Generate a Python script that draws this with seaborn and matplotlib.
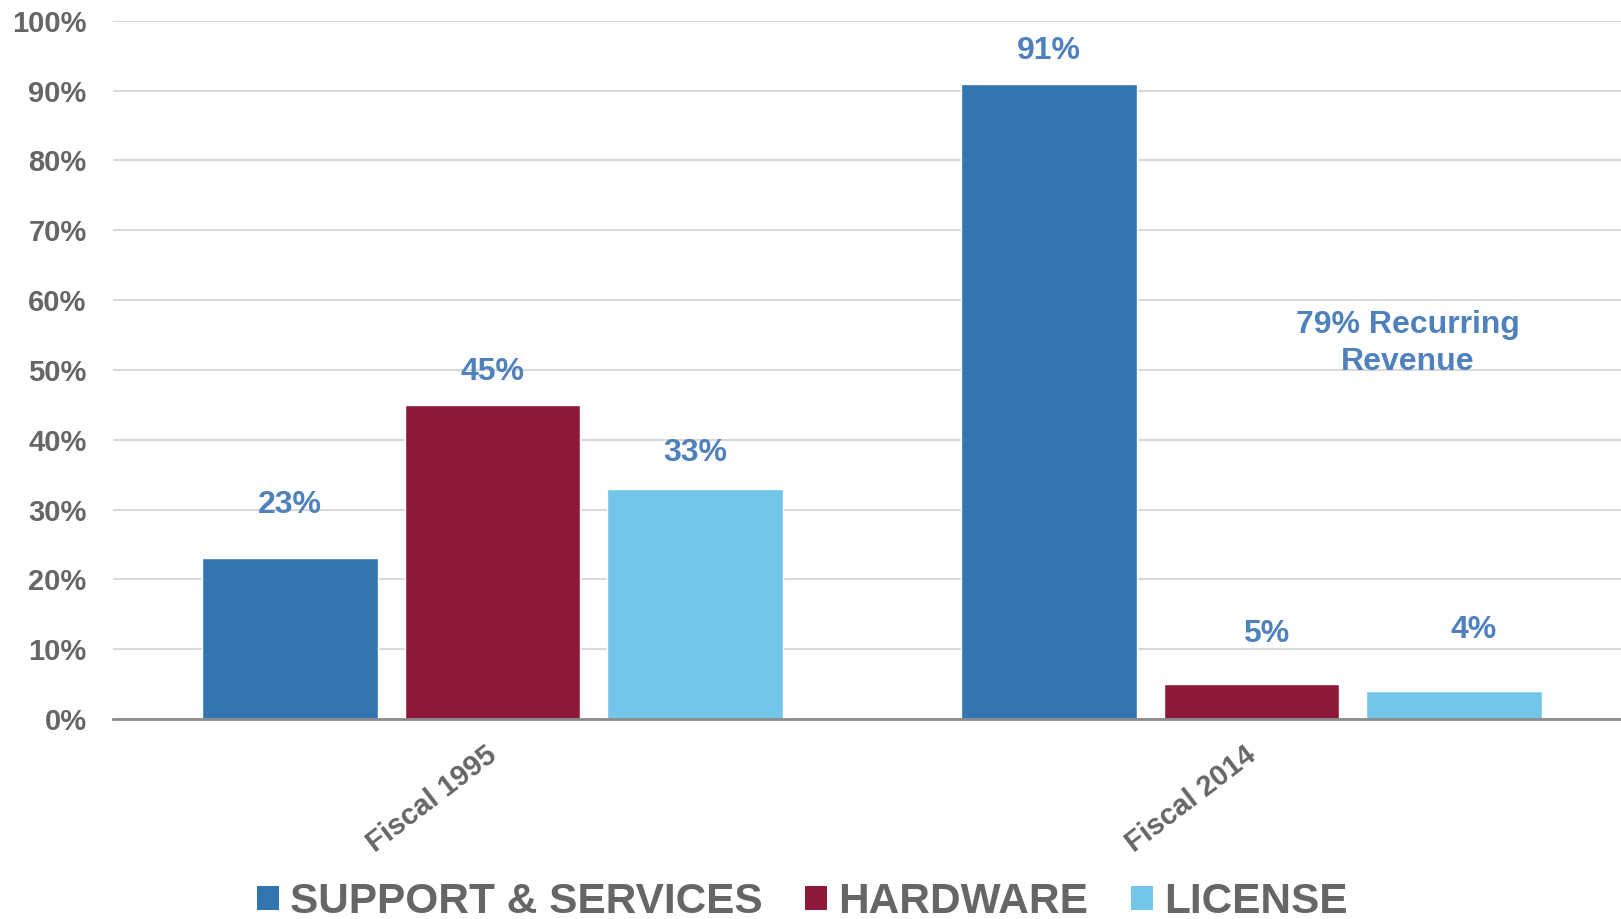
import matplotlib
matplotlib.use("Agg")
import matplotlib.pyplot as plt
import matplotlib.ticker as mticker
from matplotlib.patches import Patch
from matplotlib.transforms import ScaledTranslation
import seaborn as sns
import pandas as pd

periods = ["Fiscal 1995", "Fiscal 2014"]
categories = ["SUPPORT & SERVICES", "HARDWARE", "LICENSE"]
support = [23, 91]
hardware = [45, 5]
license_ = [33, 4]
# label placement (value-axis position and small horizontal nudge, in data units)
label_y = {"SUPPORT & SERVICES": [30.6, 95.6],
           "HARDWARE": [49.7, 12.2],
           "LICENSE": [38.1, 12.8]}
label_dx = {"SUPPORT & SERVICES": [0.0, 0.0],
            "HARDWARE": [0.0, 0.019],
            "LICENSE": [0.0, 0.026]}
yticks = list(range(0, 101, 10))
annotation = "79% Recurring\nRevenue"

colors = ["#3375B0", "#8E1938", "#73C5E9"]
label_color = "#4F81BD"
gray = "#666666"

sns.set_theme(style="white")
plt.rcParams["font.family"] = ["Liberation Sans", "DejaVu Sans"]

rows = []
for cat, vals in zip(categories, [support, hardware, license_]):
    for p, v in zip(periods, vals):
        rows.append({"period": p, "category": cat, "value": v})
df = pd.DataFrame(rows)

fig = plt.figure(figsize=(16.21, 9.19), dpi=100)
ax = fig.add_axes([0.0697, 0.2176, 0.9303, 0.7599])

sns.barplot(data=df, x="period", y="value", hue="category", hue_order=categories,
            order=periods, palette=colors, width=0.8, gap=0.133, saturation=1,
            ax=ax, legend=False, zorder=3)

ax.set_ylim(0, 100)
ax.set_xlim(-0.5, 1.487)
ax.set_yticks(yticks)
ax.yaxis.set_major_formatter(mticker.FuncFormatter(lambda v, _: f"{v:.0f}%"))
ax.yaxis.grid(True, color="#D9D9D9", linewidth=1.5, zorder=0)
ax.xaxis.grid(False)
ax.set_axisbelow(True)
for s in ["top", "right", "left"]:
    ax.spines[s].set_visible(False)
ax.spines["bottom"].set_color("#8C8C8C")
ax.spines["bottom"].set_linewidth(2)
ax.spines["bottom"].set_zorder(4)
ax.set_xlabel("")
ax.set_ylabel("")
ax.tick_params(axis="y", length=0, pad=19, labelsize=21, labelcolor=gray)
ax.tick_params(axis="x", length=0, pad=16, labelsize=21, labelcolor=gray)
for lbl in ax.get_yticklabels():
    lbl.set_fontweight("bold")
shift = ScaledTranslation(-7 / 100, 0, fig.dpi_scale_trans)
for lbl in ax.get_xticklabels():
    lbl.set_fontweight("bold")
    lbl.set_rotation(37.5)
    lbl.set_ha("right")
    lbl.set_va("top")
    lbl.set_rotation_mode("anchor")
    lbl.set_transform(lbl.get_transform() + shift)

for cat, cont in zip(categories, ax.containers):
    vals = df[df.category == cat]["value"]
    for bar, v, ly, dx in zip(cont, vals, label_y[cat], label_dx[cat]):
        cx = bar.get_x() + bar.get_width() / 2 + dx
        ax.text(cx, ly, f"{v}%", ha="center", va="center", fontsize=23,
                fontweight="bold", color=label_color)

ax.text(1.206, 53.8, annotation, ha="center", va="center", fontsize=23,
        fontweight="bold", color=label_color, linespacing=1.3)

handles = [Patch(facecolor=c, edgecolor="none") for c in colors]
fig.legend(handles, categories, loc="center", bbox_to_anchor=(0.4948, 0.0185),
           ncol=3, frameon=False, handlelength=0.52, handleheight=0.52,
           handletextpad=0.25, columnspacing=1.02, borderpad=0,
           prop={"weight": "bold", "size": 30.5}, labelcolor=gray)

fig.savefig("out.png", dpi=100)
